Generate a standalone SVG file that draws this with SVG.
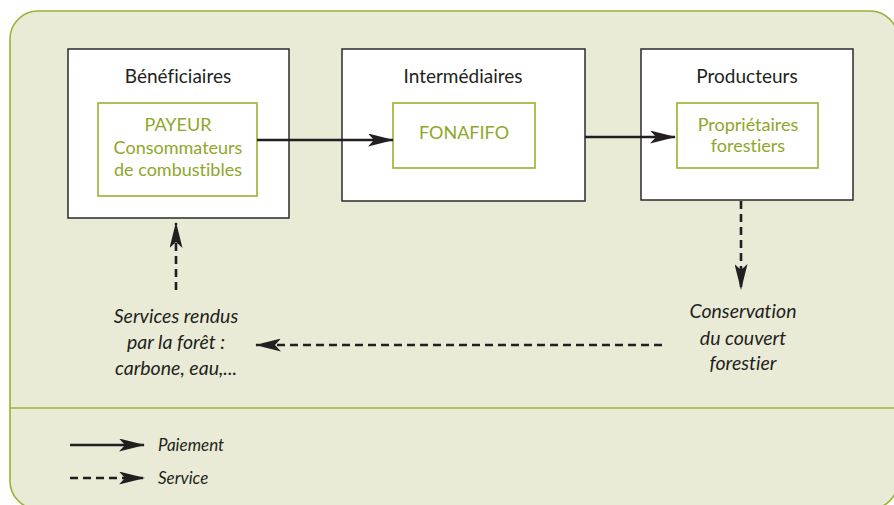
<svg xmlns="http://www.w3.org/2000/svg" width="894" height="505" viewBox="0 0 894 505">
<style>
text{font-variant-ligatures:none}
.bg{fill:#e9ebd7;stroke:#9bb133;stroke-width:1.6}
.box{fill:#ffffff;stroke:#2b2b2b;stroke-width:1.5}
.gbox{fill:#ffffff;stroke:#9bb133;stroke-width:1.6}
.t{font-family:Lato,"Liberation Sans",sans-serif;font-size:19px;fill:#231f20;text-anchor:middle}
.g{font-family:Lato,"Liberation Sans",sans-serif;font-size:18px;fill:#8ea72a;text-anchor:middle}
.i{font-family:Lato,"Liberation Sans",sans-serif;font-style:italic;font-size:19.5px;fill:#231f20;text-anchor:middle}
.li{font-family:Lato,"Liberation Sans",sans-serif;font-style:italic;font-size:17px;fill:#231f20}
.solid{fill:none;stroke:#231f20;stroke-width:2.5;marker-end:url(#ah)}
.dash{fill:none;stroke:#231f20;stroke-width:2.6;stroke-dasharray:8,5;marker-end:url(#ah)}
</style>
<defs>
<marker id="ah" viewBox="0 0 26 13" refX="25" refY="6.5" markerWidth="26" markerHeight="13" markerUnits="userSpaceOnUse" orient="auto">
<path d="M0,0 L26,6.5 L0,13 L6,6.5 Z" fill="#231f20"/>
</marker>
</defs>
<rect class="bg" x="10" y="11" width="888" height="498" rx="28" ry="28"/>
<line x1="10" y1="408" x2="894" y2="408" stroke="#9bb133" stroke-width="1.6"/>

<g id="beneficiaires">
<rect class="box" x="68" y="49" width="221" height="169"/>
<text class="t" x="178" y="83">Bénéficiaires</text>
<rect class="gbox" x="98" y="103" width="159" height="93"/>
<text class="g" x="178" y="131">PAYEUR</text>
<text class="g" x="178" y="154">Consommateurs</text>
<text class="g" x="178" y="176">de combustibles</text>
</g>

<g id="intermediaires">
<rect class="box" x="342" y="49" width="243" height="152"/>
<text class="t" x="463" y="83">Intermédiaires</text>
<rect class="gbox" x="393" y="103" width="142" height="65"/>
<text class="g" x="464" y="139">FONAFIFO</text>
</g>

<g id="producteurs">
<rect class="box" x="641" y="49" width="212" height="151"/>
<text class="t" x="747" y="83">Producteurs</text>
<rect class="gbox" x="677" y="103" width="141" height="65"/>
<text class="g" x="748" y="131">Propriétaires</text>
<text class="g" x="748" y="152">forestiers</text>
</g>

<g id="conservation">
<text class="i" x="743" y="318">Conservation</text>
<text class="i" x="743" y="345">du couvert</text>
<text class="i" x="743" y="370">forestier</text>
</g>

<g id="services">
<text class="i" x="176" y="323">Services rendus</text>
<text class="i" x="176" y="349">par la forêt :</text>
<text class="i" x="176" y="375">carbone, eau,...</text>
</g>

<g id="connectors">
<line class="solid" x1="257" y1="140" x2="393" y2="140"/>
<line class="solid" x1="585" y1="137" x2="675" y2="137"/>
<line class="dash" x1="741" y1="201" x2="741" y2="289"/>
<line class="dash" x1="662" y1="345" x2="256" y2="345"/>
<line class="dash" x1="176" y1="290" x2="176" y2="223"/>
</g>

<g id="legend">
<line class="solid" x1="70" y1="445" x2="144" y2="445"/>
<text class="li" x="158" y="451">Paiement</text>
<line class="dash" x1="70" y1="478" x2="144" y2="478"/>
<text class="li" x="158" y="484">Service</text>
</g>
</svg>
